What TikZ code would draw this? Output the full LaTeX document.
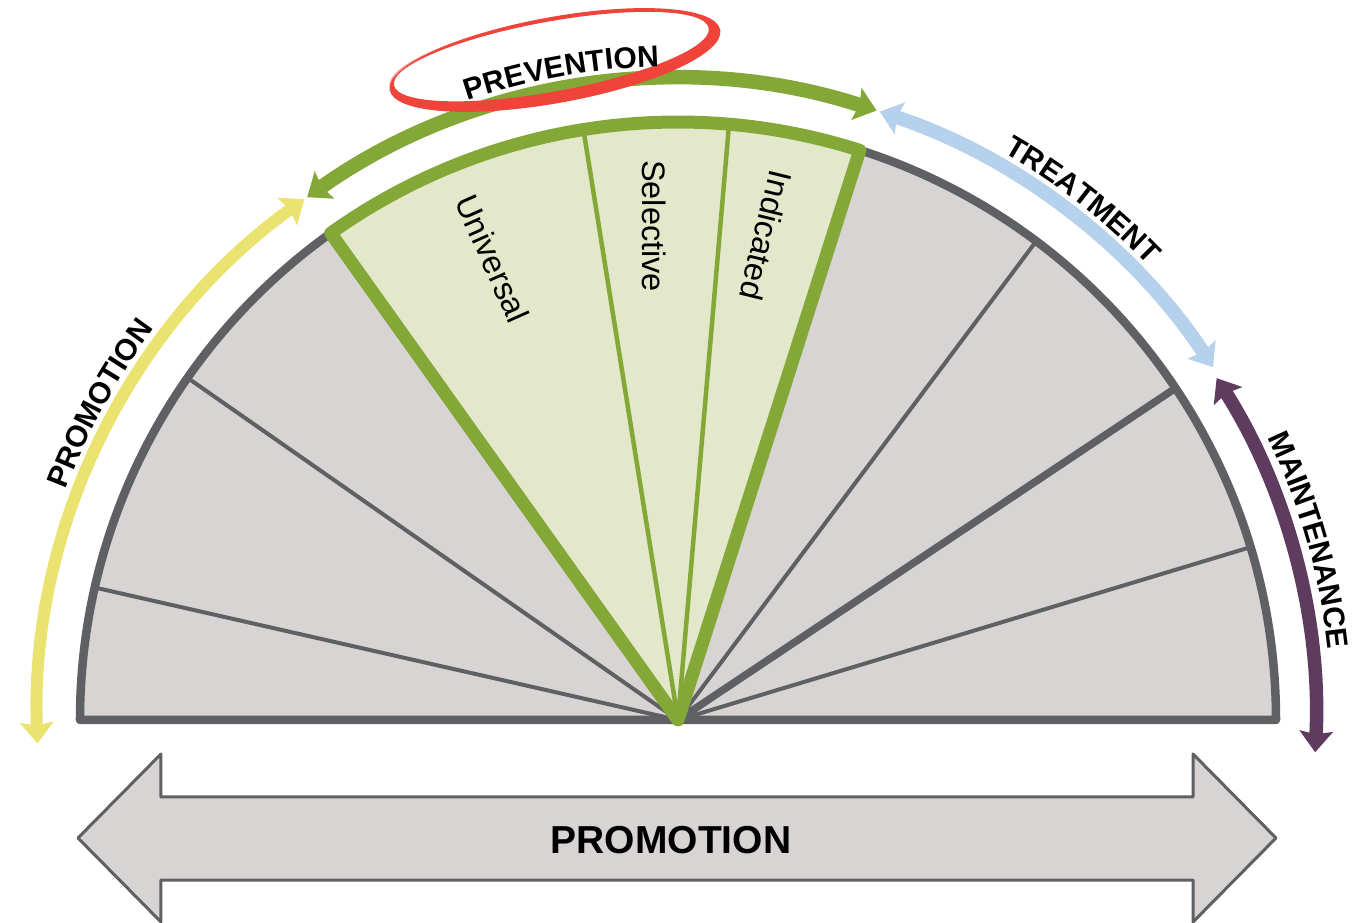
\documentclass[tikz,border=0pt]{standalone}
\usepackage{fontspec}
\setmainfont{Liberation Sans}
\usetikzlibrary{arrows.meta,decorations.text}

\definecolor{grayfill}{HTML}{D8D4D4}
\definecolor{grayline}{HTML}{5F6064}
\definecolor{prevgreen}{HTML}{84A838}
\definecolor{lightgreen}{HTML}{E3E8CA}
\definecolor{promyellow}{HTML}{EBE370}
\definecolor{treatblue}{HTML}{B5D1EB}
\definecolor{maintpurple}{HTML}{5F3B60}
\definecolor{circlered}{HTML}{F0433A}

\newcommand\arclabel[4]{% start angle, end angle, text, name
  \path[decorate,decoration={text along path,text align=center,
    text={|\fontsize{30}{36}\selectfont\bfseries|#3}}]
    (#1:654pt) coordinate (#4) arc[start angle=#1,end angle=#2,radius=654pt];}

\begin{document}
\begin{tikzpicture}[x=1pt,y=1pt,
  spoke/.style={draw=grayline,line width=4pt,line cap=round},
  thickspoke/.style={draw=grayline,line width=7.5pt,line cap=round},
  greendiv/.style={draw=prevgreen,line width=4.5pt},
  rangearrow/.style={line width=14pt,
    {Stealth[length=21pt,width=33pt,inset=3pt]}-{Stealth[length=21pt,width=33pt,inset=3pt]}},
  sectorlabel/.style={font=\fontsize{32.5}{38}\selectfont,inner sep=0pt},
  biglabel/.style={font=\fontsize{39}{44}\selectfont\bfseries,inner sep=0pt}
]
\useasboundingbox (-678,-203) rectangle (692,720);

% centre
\coordinate (O) at (0,0);

% gray semicircle
\fill[grayfill] (-598,0) arc[start angle=180,end angle=0,radius=598pt] -- cycle;
\draw[spoke] (O) -- (167.2:598pt);
\draw[spoke] (O) -- (145.1:598pt);
\draw[spoke] (O) -- (53.2:598pt);
\draw[thickspoke] (O) -- (33.7:598pt);
\draw[spoke] (O) -- (16.8:598pt);
\draw[grayline,line width=8.5pt,line join=round]
  (-598,0) arc[start angle=180,end angle=0,radius=598pt] -- cycle;

% prevention sector
\fill[lightgreen] (O) -- (125.5:598pt) arc[start angle=125.5,end angle=72.3,radius=598pt] -- cycle;
\draw[greendiv] (O) -- (99.1:598pt);
\draw[greendiv] (O) -- (85.1:598pt);
\draw[prevgreen,line width=13pt,line join=round]
  (O) -- (125.5:598pt) arc[start angle=125.5,end angle=72.3,radius=598pt] -- cycle;

% outer range arrows
\draw[rangearrow,promyellow,line width=12pt]
  (182.1:641pt) arc[start angle=182.1,end angle=125.65,radius=641pt];
\draw[rangearrow,prevgreen,line width=14.5pt]
  (125.35:641pt) arc[start angle=125.35,end angle=71.95,radius=641pt];
\draw[rangearrow,treatblue]
  (71.65:641pt) arc[start angle=71.65,end angle=33.4,radius=641pt];
\draw[rangearrow,maintpurple,line width=13.5pt]
  (32.4:638pt) arc[start angle=32.4,end angle=-2.9,radius=638pt];

% red brush ellipse
\fill[circlered,even odd rule,rotate around={10.3:(-123,660)}]
  (-123,660) ellipse[x radius=168pt,y radius=43pt]
  (-126,664) ellipse[x radius=160pt,y radius=35pt];
\draw[circlered,line width=1pt,opacity=0.5,rotate around={10.3:(-123,660)}]
  (-126,663) ellipse[x radius=164pt,y radius=39pt]
  (-127,664) ellipse[x radius=162pt,y radius=37pt];

% arc labels
\arclabel{171.3}{131.3}{PROMOTION}{lblpromo}
\arclabel{120.2}{80.2}{PREVENTION}{lblprev}
\arclabel{72.1}{32.1}{TREATMENT}{lbltreat}
\arclabel{35.9}{-4.1}{MAINTENANCE}{lblmaint}

% sector labels
\node[sectorlabel,rotate=-66] (univ) at (-185.5,461.5) {Universal};
\node[sectorlabel,rotate=-90] (sel) at (-24,494) {Selective};
\node[sectorlabel,rotate=-103.7] (ind) at (88,484.5) {Indicated};

% bottom double arrow
\draw[grayline,fill=grayfill,line width=3pt,line join=round]
  (-600,-118) -- (-517,-34) -- (-517,-77) -- (515,-77) -- (515,-34)
  -- (598,-118) -- (515,-202) -- (515,-160) -- (-517,-160) -- (-517,-202) -- cycle;
\node[biglabel] (promo) at (-7,-120) {PROMOTION};
\end{tikzpicture}
\end{document}
